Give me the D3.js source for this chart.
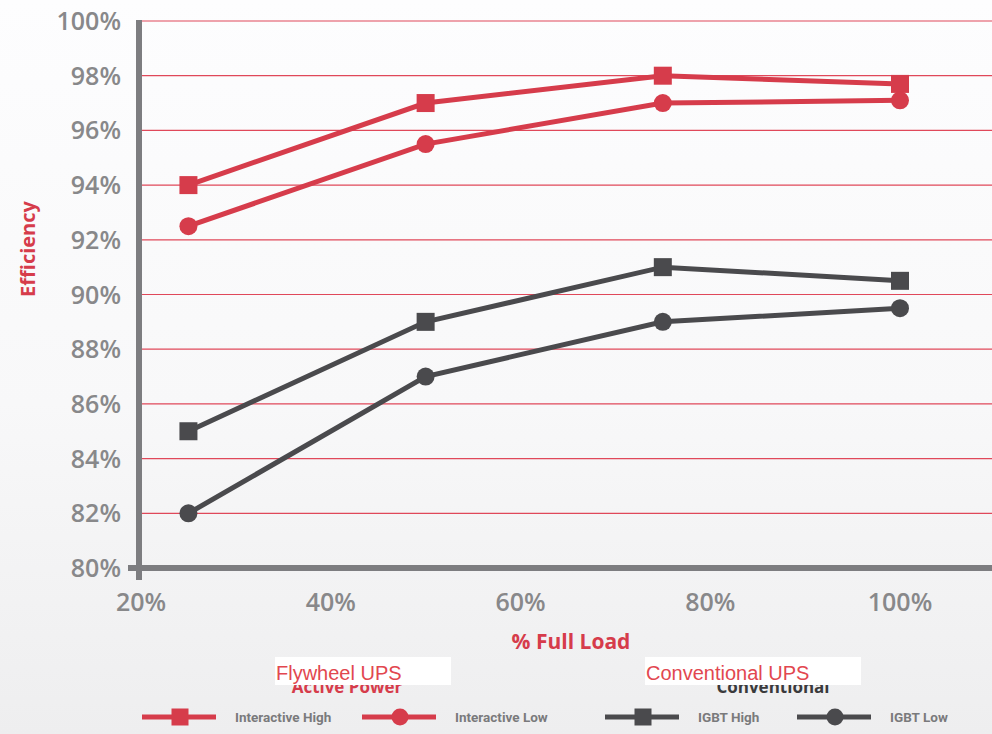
<!DOCTYPE html>
<html>
<head>
<meta charset="utf-8">
<script src="https://cdn.jsdelivr.net/npm/d3@7"></script>
<style>
  body { margin: 0; background: #f5f5f6; }
  svg { display: block; }
</style>
</head>
<body>
<div id="chart"></div>
<script>
// load levels (% of full load) and efficiency readings
let loads = [25, 50, 75, 100];
let interactiveHigh = [94, 97, 98, 97.7];
let interactiveLow = [92.5, 95.5, 97, 97.1];
let igbtHigh = [85, 89, 91, 90.5];
let igbtLow = [82, 87, 89, 89.5];
let yTicks = [80, 82, 84, 86, 88, 90, 92, 94, 96, 98, 100];
let xTicks = [20, 40, 60, 80, 100];

let red = '#d63c4b',
    dark = '#4a4a4d';

let series = [
    {name: 'Interactive High', values: interactiveHigh, color: red, shape: 'square'},
    {name: 'Interactive Low', values: interactiveLow, color: red, shape: 'circle'},
    {name: 'IGBT High', values: igbtHigh, color: dark, shape: 'square'},
    {name: 'IGBT Low', values: igbtLow, color: dark, shape: 'circle'}
];

let width = 992,
    height = 734;

let svg = d3.select('#chart').append('svg')
    .attr('width', width)
    .attr('height', height);

// soft grey backdrop
let grad = svg.append('defs').append('linearGradient')
    .attr('id', 'bg').attr('x1', 0).attr('y1', 0).attr('x2', 0).attr('y2', 1);
grad.append('stop').attr('offset', '0%').attr('stop-color', '#fdfdfe');
grad.append('stop').attr('offset', '55%').attr('stop-color', '#f8f8f9');
grad.append('stop').attr('offset', '100%').attr('stop-color', '#eeeeef');
svg.append('rect').attr('width', width).attr('height', height).attr('fill', 'url(#bg)');

//----------------------------------------
// Scales
let x = d3.scaleLinear().domain([20, 100]).range([141, 900]);
let y = d3.scaleLinear().domain([80, 100]).range([568, 21]);

// gridlines
svg.append('g')
    .selectAll('line')
    .data(yTicks.slice(1))
    .enter()
    .append('line')
    .attr('x1', 139).attr('x2', width)
    .attr('y1', d => y(d)).attr('y2', d => y(d))
    .style('stroke', '#e0485a')
    .style('stroke-width', 1.2);

// y tick labels
svg.append('g')
    .selectAll('text')
    .data(yTicks)
    .enter()
    .append('text')
    .attr('x', 121)
    .attr('y', d => y(d) + 9)
    .attr('text-anchor', 'end')
    .style('font-family', 'Open Sans, sans-serif')
    .style('font-weight', 600)
    .style('font-size', '25px')
    .style('fill', '#88888a')
    .text(d => d + '%');

// x tick labels
svg.append('g')
    .selectAll('text')
    .data(xTicks)
    .enter()
    .append('text')
    .attr('x', d => x(d))
    .attr('y', 611)
    .attr('text-anchor', 'middle')
    .style('font-family', 'Open Sans, sans-serif')
    .style('font-weight', 600)
    .style('font-size', '25px')
    .style('fill', '#88888a')
    .text(d => d + '%');

// axis lines
svg.append('line')
    .attr('x1', 139).attr('x2', 139).attr('y1', 20).attr('y2', 580)
    .style('stroke', '#7d7d80').style('stroke-width', 6);
svg.append('line')
    .attr('x1', 128).attr('x2', width).attr('y1', 568).attr('y2', 568)
    .style('stroke', '#7d7d80').style('stroke-width', 6);

// axis titles
svg.append('text')
    .attr('transform', 'translate(35,249) rotate(-90)')
    .attr('text-anchor', 'middle')
    .style('font-family', 'Open Sans, sans-serif')
    .style('font-weight', 'bold')
    .style('font-size', '20px')
    .style('fill', red)
    .text('Efficiency');

svg.append('text')
    .attr('x', 571).attr('y', 649)
    .attr('text-anchor', 'middle')
    .style('font-family', 'Open Sans, sans-serif')
    .style('font-weight', 'bold')
    .style('font-size', '21px')
    .style('fill', red)
    .text('% Full Load');

//----------------------------------------
// Lines and markers
let line = d3.line()
    .x((d, i) => x(loads[i]))
    .y(d => y(d));

function drawMarker(g, shape, cx, cy, color, size) {
    if (shape === 'square') {
        g.append('rect')
            .attr('x', cx - size / 2).attr('y', cy - size / 2)
            .attr('width', size).attr('height', size)
            .style('fill', color);
    } else {
        g.append('circle')
            .attr('cx', cx).attr('cy', cy).attr('r', size / 2)
            .style('fill', color);
    }
}

series.forEach(function(s) {
    let g = svg.append('g');
    g.append('path')
        .datum(s.values)
        .attr('d', line)
        .style('fill', 'none')
        .style('stroke', s.color)
        .style('stroke-width', 5);
    s.values.forEach(function(v, i) {
        drawMarker(g, s.shape, x(loads[i]), y(v), s.color, 18);
    });
});

//----------------------------------------
// Legend
// group headings (partly covered by white labels, as in the original)
svg.append('text')
    .attr('x', 347).attr('y', 693)
    .attr('text-anchor', 'middle')
    .style('font-family', 'Open Sans, sans-serif')
    .style('font-weight', 'bold')
    .style('font-size', '17px')
    .style('fill', red)
    .text('Active Power');
svg.append('text')
    .attr('x', 773).attr('y', 693)
    .attr('text-anchor', 'middle')
    .style('font-family', 'Open Sans, sans-serif')
    .style('font-weight', 'bold')
    .style('font-size', '17px')
    .style('fill', '#3a3a3c')
    .text('Conventional');

let groupLabels = [
    {text: 'Flywheel UPS', x: 275, w: 176},
    {text: 'Conventional UPS', x: 645, w: 216}
];
groupLabels.forEach(function(d) {
    svg.append('rect')
        .attr('x', d.x).attr('y', 657).attr('width', d.w).attr('height', 28)
        .style('fill', '#ffffff');
    svg.append('text')
        .attr('x', d.x + 1).attr('y', 680)
        .style('font-family', 'Liberation Sans, Arial, sans-serif')
        .style('font-size', '20px')
        .style('fill', '#e2474f')
        .text(d.text);
});

let legendX = [142, 362, 605, 797];
series.forEach(function(s, i) {
    let g = svg.append('g');
    let lx = legendX[i];
    g.append('line')
        .attr('x1', lx).attr('x2', lx + 74)
        .attr('y1', 717).attr('y2', 717)
        .style('stroke', s.color)
        .style('stroke-width', 5);
    drawMarker(g, s.shape, lx + 38, 717, s.color, 17);
    g.append('text')
        .attr('x', lx + 93).attr('y', 722)
        .style('font-family', 'Roboto, sans-serif')
        .style('font-weight', 'bold')
        .style('font-size', '13.5px')
        .style('fill', '#7a7a7c')
        .text(s.name);
});
</script>
</body>
</html>
